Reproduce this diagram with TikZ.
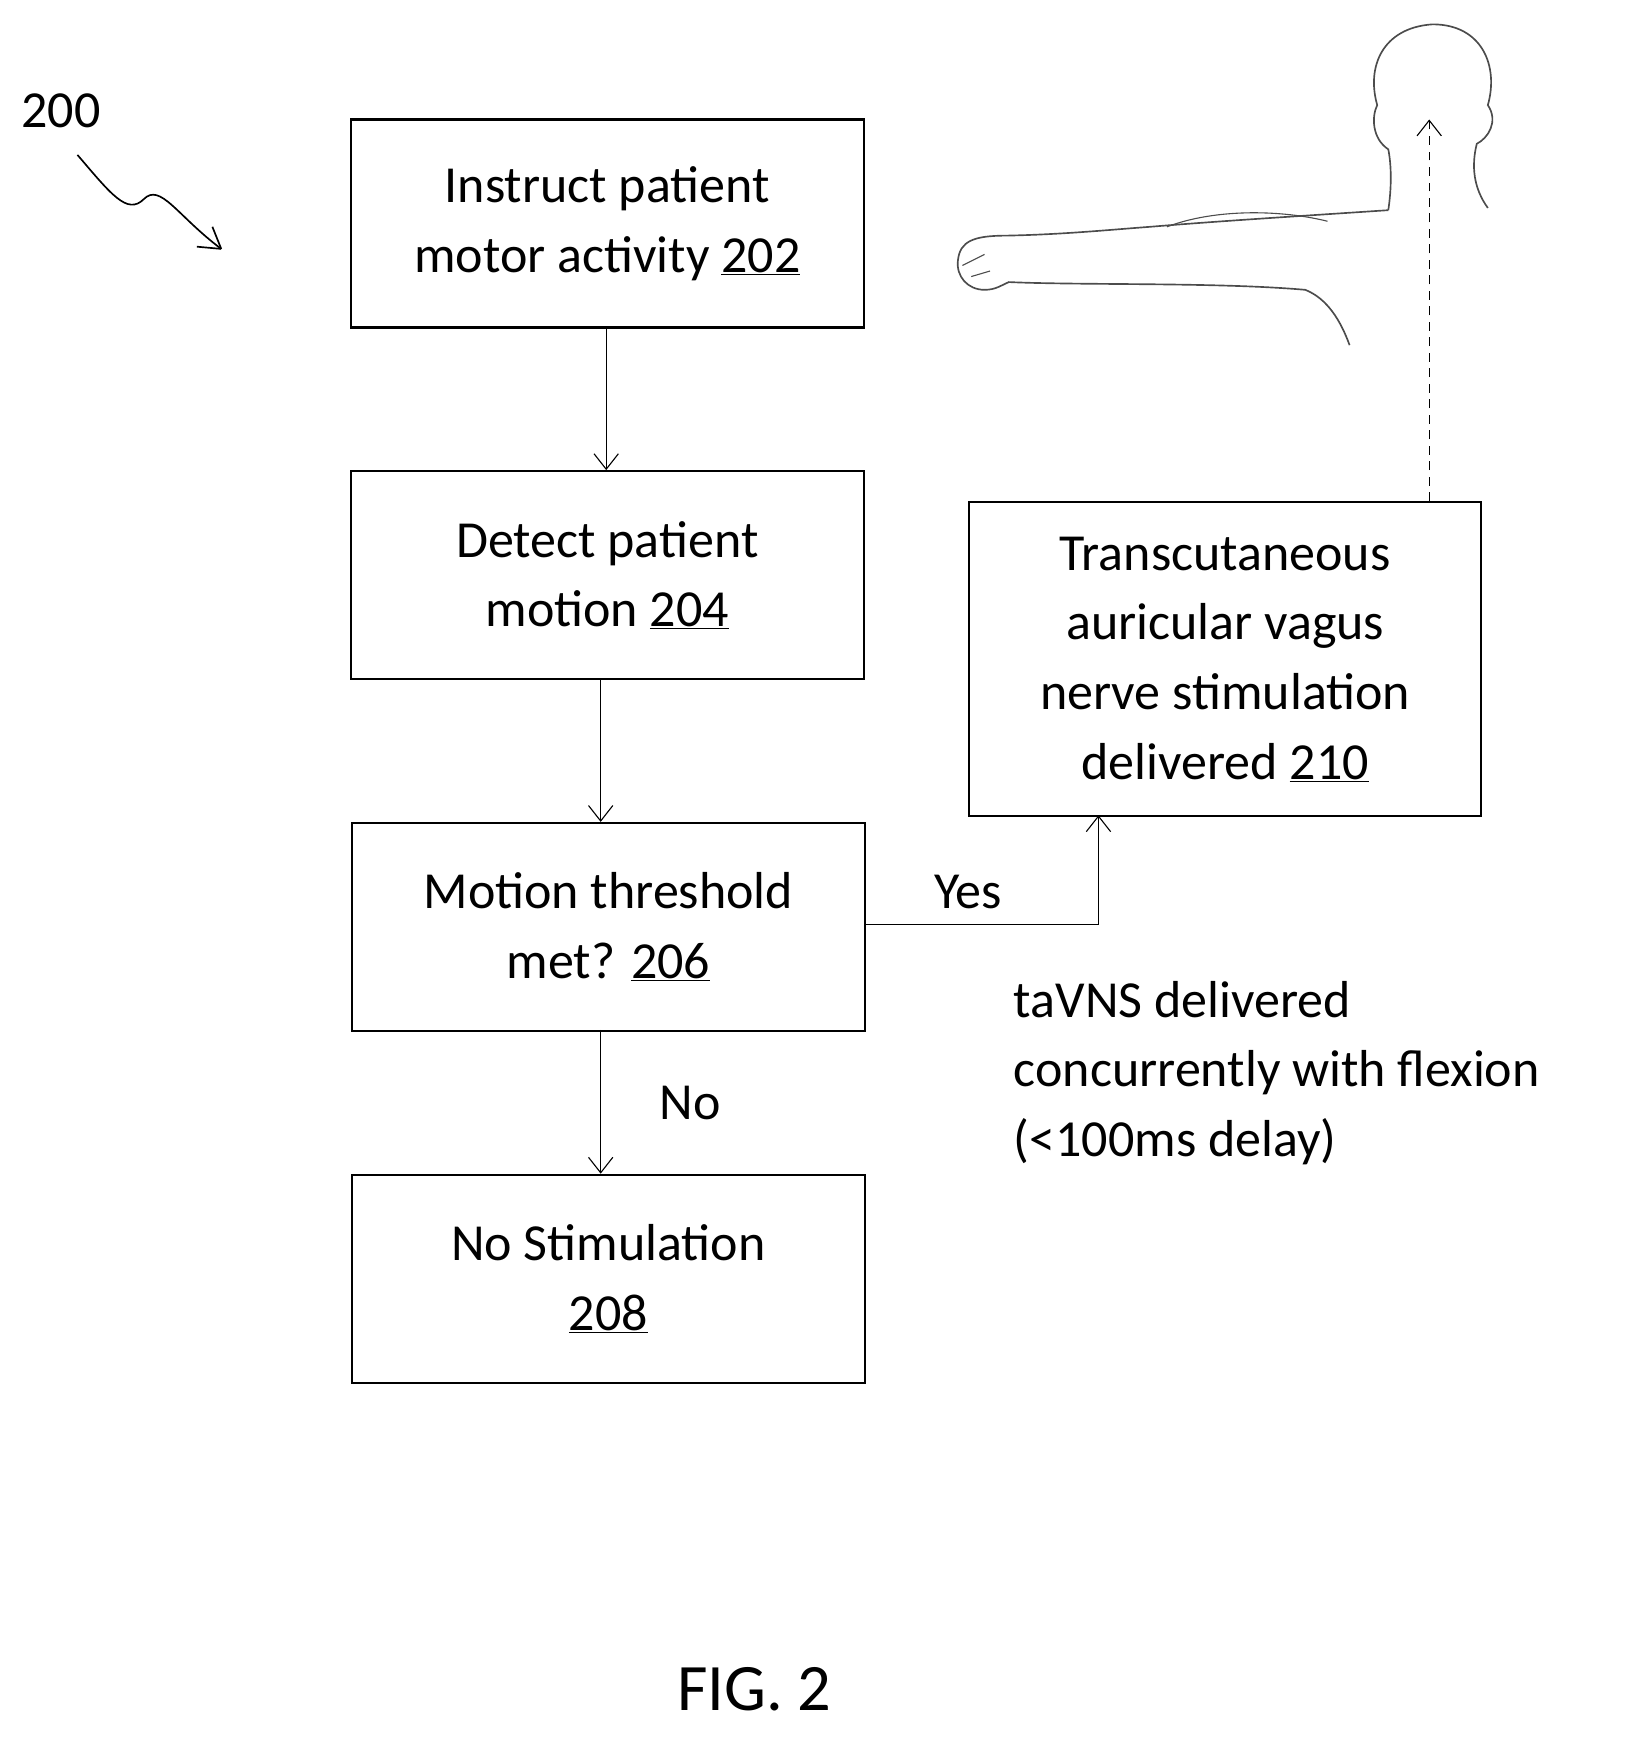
\documentclass[tikz,border=0pt]{standalone}
\usepackage{fontspec}
\setmainfont{Carlito}
\usetikzlibrary{arrows.meta,decorations.pathmorphing}
\begin{document}
\begin{tikzpicture}[x=1pt,y=-1pt,
 box/.style={draw,line width=2pt,minimum width=464pt,minimum height=188pt,align=center,font=\fontsize{47}{63}\selectfont,anchor=north west,inner sep=0},
 lab/.style={font=\fontsize{47}{63}\selectfont},
 arr/.style={-{Straight Barb[length=14pt,width=22pt]},line width=1pt}]
\useasboundingbox (0,0) rectangle (1470,1582);
\node[box] (a) at (316,107) {Instruct patient\\motor activity \underline{202}};
\node[box] (b) at (316,425) {Detect patient\\motion \underline{204}};
\node[box] (c) at (317,743) {Motion threshold\\met? \underline{206}};
\node[box] (d) at (317,1061) {No Stimulation\\\underline{208}};
\node[box,minimum width=463pt,minimum height=284pt] (e) at (875,453) {Transcutaneous\\auricular vagus\\nerve stimulation\\delivered \underline{210}};
\draw[arr] (548,295) -- (548,425);
\draw[arr] (543,613) -- (543,743);
\draw[arr] (543,931) -- (543,1061);
\draw[arr] (c.east|-0,836) -- (993,836) -- (993,737);
\node[lab] (y) at (875,806) {Yes};
\node[lab] (n) at (624,997) {No};
\node[lab,align=left,anchor=west] (t) at (913,970) {taVNS delivered\\concurrently with flexion\\(<100ms delay)};
\coordinate (h) at (1292,108);
\draw[arr,dash pattern=on 8pt off 6pt] (1292,453) -- (h);
\node[lab] (l) at (55,100) {200};
\coordinate (s1) at (70,140); \coordinate (s2) at (200,225);
\draw[line width=1.5pt] (s1) .. controls (100,175) and (115,195) .. (130,180) .. controls (145,165) and (160,195) .. (s2);
\draw[line width=1.5pt] (s2) -- ++(-22,-2) (s2) -- ++(-8,-20);
\node[font=\fontsize{60}{70}\selectfont] (f) at (682,1527) {FIG. 2};
% head and shoulders
\draw[line width=1.5pt,gray!60!black] (1255,190) .. controls (1258,170) and (1258,150) .. (1255,135)
 .. controls (1240,125) and (1240,105) .. (1245,95)
 .. controls (1235,60) and (1250,25) .. (1295,22)
 .. controls (1340,22) and (1355,60) .. (1345,95)
 .. controls (1355,110) and (1345,125) .. (1335,130)
 .. controls (1330,150) and (1332,170) .. (1345,188);
% arm
\draw[line width=1.5pt,gray!60!black] (1255,190) .. controls (1180,195) and (1100,200) .. (1040,205)
 .. controls (1000,208) and (960,212) .. (910,213)
 .. controls (880,213) and (868,218) .. (866,235)
 .. controls (864,250) and (875,262) .. (890,262)
 .. controls (900,262) and (905,258) .. (912,255)
 .. controls (980,258) and (1100,255) .. (1180,262)
 .. controls (1200,270) and (1212,290) .. (1220,312);
\draw[line width=1pt,gray!60!black] (1055,205) .. controls (1100,188) and (1160,190) .. (1200,200);
\draw[line width=1pt,gray!60!black] (870,240) -- (890,230) (878,250) -- (895,245);
\end{tikzpicture}
\end{document}
